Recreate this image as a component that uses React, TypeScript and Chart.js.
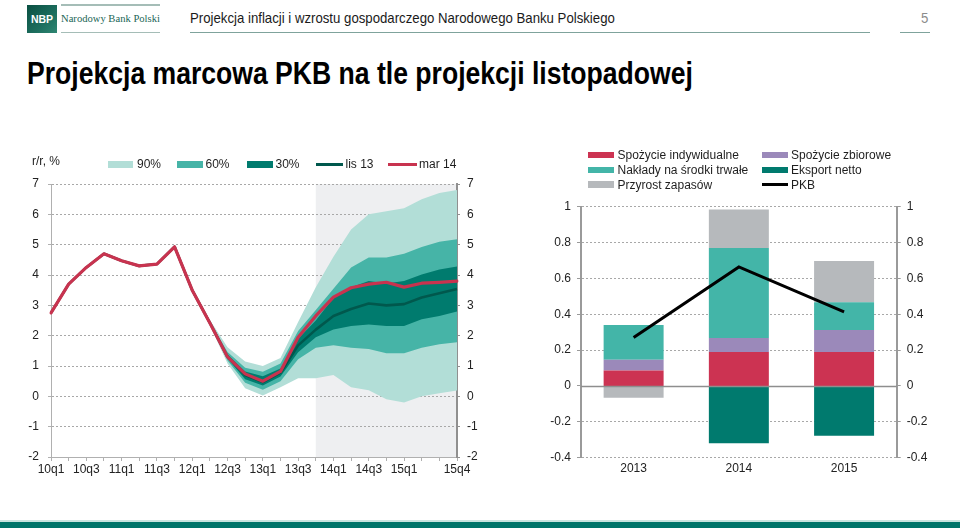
import React, { useEffect, useRef } from 'react';
import { Chart, registerables } from 'chart.js';

Chart.register(...registerables);
Chart.defaults.font.family = "'Liberation Sans', Arial, sans-serif";
Chart.defaults.font.size = 12;
Chart.defaults.color = '#222222';

// ---------- Left chart: fan chart ----------
const quarters = ['10q1','10q2','10q3','10q4','11q1','11q2','11q3','11q4','12q1','12q2','12q3','12q4','13q1','13q2','13q3','13q4','14q1','14q2','14q3','14q4','15q1','15q2','15q3','15q4'];
const xTickLabels = ['10q1','','10q3','','11q1','','11q3','','12q1','','12q3','','13q1','','13q3','','14q1','','14q3','','15q1','','','15q4'];
const shadeFrom = '13q4';

const mar14 = [2.75, 3.7, 4.25, 4.7, 4.47, 4.3, 4.36, 4.93, 3.5, 2.42, 1.3, 0.74, 0.5, 0.82, 1.95, 2.65, 3.27, 3.58, 3.7, 3.76, 3.6, 3.73, 3.76, 3.8];
const lis13 = [2.75, 3.7, 4.25, 4.7, 4.47, 4.3, 4.36, 4.93, 3.5, 2.42, 1.3, 0.7, 0.47, 0.78, 1.68, 2.2, 2.65, 2.88, 3.06, 3.0, 3.04, 3.26, 3.4, 3.54];
const N = null;
const lo90 = [N, N, N, N, N, N, N, N, 3.5, 2.34, 1.08, 0.27, 0.03, 0.3, 0.6, 0.6, 0.7, 0.3, 0.2, -0.1, -0.2, 0.0, 0.1, 0.19];
const hi90 = [N, N, N, N, N, N, N, N, 3.5, 2.52, 1.62, 1.15, 1.0, 1.26, 2.45, 3.6, 4.6, 5.5, 6.0, 6.1, 6.2, 6.5, 6.7, 6.8];
const lo60 = [N, N, N, N, N, N, N, N, 3.5, 2.38, 1.18, 0.45, 0.22, 0.5, 1.22, 1.6, 1.68, 1.6, 1.56, 1.42, 1.42, 1.6, 1.72, 1.78];
const hi60 = [N, N, N, N, N, N, N, N, 3.5, 2.47, 1.46, 0.94, 0.81, 1.08, 2.15, 2.85, 3.55, 4.25, 4.58, 4.58, 4.7, 4.92, 5.1, 5.18];
const lo30 = [N, N, N, N, N, N, N, N, 3.5, 2.4, 1.25, 0.56, 0.36, 0.65, 1.45, 1.95, 2.2, 2.32, 2.37, 2.32, 2.32, 2.54, 2.65, 2.8];
const hi30 = [N, N, N, N, N, N, N, N, 3.5, 2.45, 1.38, 0.82, 0.66, 0.92, 1.9, 2.5, 3.25, 3.6, 3.8, 3.72, 3.8, 4.02, 4.18, 4.28];

const fanLegend = ['90%', '60%', '30%', 'lis 13', 'mar 14'];

// ---------- Right chart: GDP contributions ----------
const years = ['2013', '2014', '2015'];
const spozycieIndywidualne = [0.087, 0.19, 0.19];
const spozycieZbiorowe = [0.06, 0.078, 0.122];
const naklady = [0.193, 0.502, 0.155];
const przyrostZapasow = [-0.065, 0.215, 0.23];
const eksportNetto = [0.0, -0.32, -0.278];
const pkb = [0.27, 0.664, 0.413];
const barLegend = ['Spożycie indywidualne', 'Spożycie zbiorowe', 'Nakłady na środki trwałe', 'Eksport netto', 'Przyrost zapasów', 'PKB'];

const C90 = '#B2DED7';
const C60 = '#46B4A7';
const C30 = '#007B6E';
const CLIS = '#00584D';
const CMAR = '#C8334F';
const SHADE = '#EEEFF1';
const GRID = '#A8A8A8';

const BRED = '#CC3352';
const BPUR = '#9B89BA';
const BTEAL = '#43B5A8';
const BDARK = '#007A6E';
const BGRAY = '#B6B9BC';

const fmt = (v: number) => String(Math.round(Number(v) * 10) / 10);

function FanChart() {
  const ref = useRef<HTMLCanvasElement>(null);
  useEffect(() => {
    const shadePlugin = {
      id: 'shade',
      beforeDraw(chart: any) {
        const { ctx, chartArea, scales } = chart;
        const x0 = scales.x.getPixelForValue(quarters.indexOf(shadeFrom));
        const x1 = scales.x.getPixelForValue(quarters.length - 1);
        ctx.save();
        ctx.fillStyle = SHADE;
        ctx.fillRect(x0, chartArea.top, x1 - x0, chartArea.bottom - chartArea.top);
        ctx.restore();
      },
    };
    const band = (data: (number | null)[], fill: any, color: string, order: number) => ({
      data, fill, backgroundColor: color, borderWidth: 0, borderColor: 'transparent', order, pointRadius: 0,
    });
    const chart = new Chart(ref.current as HTMLCanvasElement, {
      type: 'line',
      data: {
        labels: quarters,
        datasets: [
          { label: 'mar 14', data: mar14, borderColor: CMAR, borderWidth: 3.2, order: 0, fill: false, borderJoinStyle: 'round', borderCapStyle: 'round' } as any,
          { label: 'lis 13', data: lis13, borderColor: CLIS, borderWidth: 2.6, order: 1, fill: false, borderJoinStyle: 'round' } as any,
          band(hi30, 3, C30, 2),
          band(lo30, false, C30, 2),
          band(hi60, 5, C60, 3),
          band(lo60, false, C60, 3),
          band(hi90, 7, C90, 4),
          band(lo90, false, C90, 4),
        ],
      },
      options: {
        responsive: false,
        animation: false,
        events: [],
        layout: { padding: { top: 44, left: 0, right: 0, bottom: 0 } },
        elements: { point: { radius: 0 }, line: { tension: 0 } },
        plugins: { legend: { display: false }, tooltip: { enabled: false } },
        scales: {
          x: {
            type: 'category',
            offset: false,
            grid: { display: true, drawOnChartArea: false, drawTicks: true, tickLength: 4, color: '#B0B0B0' },
            border: { display: true, color: '#B0B0B0', width: 1 },
            ticks: { autoSkip: false, maxRotation: 0, minRotation: 0, padding: 1, callback: (_v: any, i: number) => xTickLabels[i] },
            afterFit: (s: any) => { s.height = 28; },
          },
          y: {
            min: -2, max: 7,
            ticks: { stepSize: 1, padding: 9 },
            grid: { color: GRID, tickLength: 3, tickColor: '#B0B0B0', drawTicks: true },
            border: { display: true, dash: [2, 2], color: '#B0B0B0', width: 1 },
            afterFit: (s: any) => { s.width = 51; },
          },
          y2: {
            position: 'right',
            min: -2, max: 7,
            ticks: { stepSize: 1, padding: 7 },
            grid: { drawOnChartArea: false, tickLength: 3, tickColor: '#909090', drawTicks: true },
            border: { display: true, color: '#909090', width: 2 },
            afterFit: (s: any) => { s.width = 33; },
          },
        },
      } as any,
      plugins: [shadePlugin],
    });
    return () => chart.destroy();
  }, []);
  return <canvas ref={ref} width={490} height={345} style={{ position: 'absolute', left: 0, top: 140, width: 490, height: 345 }} />;
}

function BarChart() {
  const ref = useRef<HTMLCanvasElement>(null);
  useEffect(() => {
    const zeroLine = {
      id: 'zeroLine',
      afterDatasetsDraw(chart: any) {
        const { ctx, chartArea, scales } = chart;
        const y = Math.round(scales.y.getPixelForValue(0)) + 0.5;
        ctx.save();
        ctx.strokeStyle = '#8E8E8E';
        ctx.lineWidth = 1.5;
        ctx.beginPath();
        ctx.moveTo(chartArea.left, y);
        ctx.lineTo(chartArea.right, y);
        ctx.stroke();
        ctx.restore();
      },
    };
    const bar = (label: string, data: number[], color: string) => ({
      type: 'bar', label, data, backgroundColor: color, borderWidth: 0, stack: 'gdp', order: 1,
      barPercentage: 0.57, categoryPercentage: 1,
    });
    const chart = new Chart(ref.current as HTMLCanvasElement, {
      type: 'bar',
      data: {
        labels: years,
        datasets: [
          { type: 'line', label: 'PKB', data: pkb, borderColor: '#000000', borderWidth: 3, pointRadius: 0, stack: 'line', order: 0, fill: false, tension: 0 } as any,
          bar(barLegend[0], spozycieIndywidualne, BRED),
          bar(barLegend[1], spozycieZbiorowe, BPUR),
          bar(barLegend[2], naklady, BTEAL),
          bar(barLegend[4], przyrostZapasow, BGRAY),
          bar(barLegend[3], eksportNetto, BDARK),
        ] as any,
      },
      options: {
        responsive: false,
        animation: false,
        events: [],
        layout: { padding: { top: 16.7, left: 0, right: 0, bottom: 0 } },
        plugins: { legend: { display: false }, tooltip: { enabled: false } },
        scales: {
          x: {
            stacked: true,
            grid: { display: false, drawTicks: false, tickLength: 0 },
            border: { display: false },
            ticks: { padding: 4 },
            afterFit: (s: any) => { s.height = 32.3; },
          },
          y: {
            stacked: true,
            min: -0.4, max: 1,
            ticks: { stepSize: 0.2, padding: 6, callback: (v: any) => fmt(v) },
            grid: {
              color: (c: any) => (Math.abs(c.tick?.value ?? 1) < 1e-9 ? 'rgba(0,0,0,0)' : GRID),
              tickColor: '#9A9A9A', tickLength: 4, drawTicks: true,
            },
            border: { display: true, dash: [2, 2], color: '#9A9A9A', width: 2 },
            afterFit: (s: any) => { s.width = 61; },
          },
          y2: {
            position: 'right',
            min: -0.4, max: 1,
            ticks: { stepSize: 0.2, padding: 6, callback: (v: any) => fmt(v) },
            grid: { drawOnChartArea: false, tickColor: '#9A9A9A', tickLength: 4, drawTicks: true },
            border: { display: true, color: '#9A9A9A', width: 2 },
            afterFit: (s: any) => { s.width = 63.3; },
          },
        },
      } as any,
      plugins: [zeroLine],
    });
    return () => chart.destroy();
  }, []);
  return <canvas ref={ref} width={440} height={300} style={{ position: 'absolute', left: 520, top: 190, width: 440, height: 300 }} />;
}

const FONT = "'Liberation Sans', Arial, sans-serif";

function Swatch({ x, y, w, h, color }: { x: number; y: number; w: number; h: number; color: string }) {
  return <div style={{ position: 'absolute', left: x, top: y - h / 2, width: w, height: h, background: color }} />;
}
function Txt({ x, y, text, size = 12, color = '#1e1e1e' }: { x: number; y: number; text: string; size?: number; color?: string }) {
  return (
    <div style={{ position: 'absolute', left: x, top: y - 7, height: 14, lineHeight: '14px', fontSize: size, fontFamily: FONT, color, whiteSpace: 'nowrap' }}>{text}</div>
  );
}

export default function App() {
  useEffect(() => { document.body.style.margin = '0'; }, []);
  const ly = 164.3;
  const r1 = 155, r2 = 170, r3 = 184.5;
  return (
    <div style={{ position: 'fixed', left: 0, top: 0, width: 960, height: 528, background: '#ffffff', overflow: 'hidden', fontFamily: FONT }}>
      {/* header */}
      <div style={{ position: 'absolute', left: 27, top: 5, width: 30, height: 28, background: 'linear-gradient(135deg, #0A4F42 0%, #1C6E5E 60%, #2F8672 100%)', color: '#fff', fontFamily: FONT, fontWeight: 700, fontSize: 10.5, lineHeight: '28px', textAlign: 'center' }}>NBP</div>
      <div style={{ position: 'absolute', left: 61, top: 4, width: 99, height: 1.5, background: '#A5BDB7' }} />
      <div style={{ position: 'absolute', left: 61, top: 31.5, width: 99, height: 1.5, background: '#A5BDB7' }} />
      <div style={{ position: 'absolute', left: 61, top: 11, lineHeight: '15px', fontSize: 10.6, fontFamily: "'Liberation Serif', 'DejaVu Serif', serif", color: '#1A6555', whiteSpace: 'nowrap' }}>Narodowy Bank Polski</div>
      <div style={{ position: 'absolute', left: 190, top: 8.8, lineHeight: '18px', fontSize: 15, color: '#1a1a1a', whiteSpace: 'nowrap', transform: 'scaleX(0.88)', transformOrigin: 'left center' }}>Projekcja inflacji i wzrostu gospodarczego Narodowego Banku Polskiego</div>
      <div style={{ position: 'absolute', left: 190, top: 31.5, width: 680, height: 1.5, background: '#7FA39C' }} />
      <div style={{ position: 'absolute', left: 921, top: 8.8, lineHeight: '18px', fontSize: 15, color: '#8C8C8C', transform: 'scaleX(0.88)', transformOrigin: 'left center' }}>5</div>
      <div style={{ position: 'absolute', left: 900, top: 31.5, width: 30, height: 1.5, background: '#7FA39C' }} />
      <div style={{ position: 'absolute', left: 27, top: 56.2, lineHeight: '36px', fontSize: 31, fontWeight: 700, color: '#000', whiteSpace: 'nowrap', transform: 'scaleX(0.857)', transformOrigin: 'left center' }}>Projekcja marcowa PKB na tle projekcji listopadowej</div>

      <FanChart />
      <BarChart />

      {/* fan legend */}
      <Txt x={32} y={160.7} text="r/r, %" />
      <Swatch x={108} y={ly} w={25} h={7} color={C90} />
      <Txt x={137} y={ly} text={fanLegend[0]} />
      <Swatch x={177} y={ly} w={26} h={7} color={C60} />
      <Txt x={205.5} y={ly} text={fanLegend[1]} />
      <Swatch x={247} y={ly} w={26} h={7} color={C30} />
      <Txt x={275.5} y={ly} text={fanLegend[2]} />
      <Swatch x={316} y={ly} w={27} h={3} color={CLIS} />
      <Txt x={345.5} y={ly} text={fanLegend[3]} />
      <Swatch x={388} y={ly} w={29} h={3} color={CMAR} />
      <Txt x={419} y={ly} text={fanLegend[4]} />

      {/* bar legend */}
      <Swatch x={588} y={r1} w={26} h={6.5} color={BRED} />
      <Txt x={617.5} y={r1} text={barLegend[0]} />
      <Swatch x={762} y={r1} w={26} h={6.5} color={BPUR} />
      <Txt x={791} y={r1} text={barLegend[1]} />
      <Swatch x={588} y={r2} w={26} h={6.5} color={BTEAL} />
      <Txt x={617.5} y={r2} text={barLegend[2]} />
      <Swatch x={762} y={r2} w={26} h={6.5} color={BDARK} />
      <Txt x={791} y={r2} text={barLegend[3]} />
      <Swatch x={588} y={r3} w={26} h={6.5} color={BGRAY} />
      <Txt x={617.5} y={r3} text={barLegend[4]} />
      <Swatch x={762} y={r3} w={26} h={3} color="#000000" />
      <Txt x={791} y={r3} text={barLegend[5]} />

      {/* footer band */}
      <div style={{ position: 'absolute', left: 0, top: 520, width: 960, height: 1.5, background: '#C9E4DF' }} />
      <div style={{ position: 'absolute', left: 0, top: 521.5, width: 960, height: 6.5, background: '#00756A' }} />
    </div>
  );
}
